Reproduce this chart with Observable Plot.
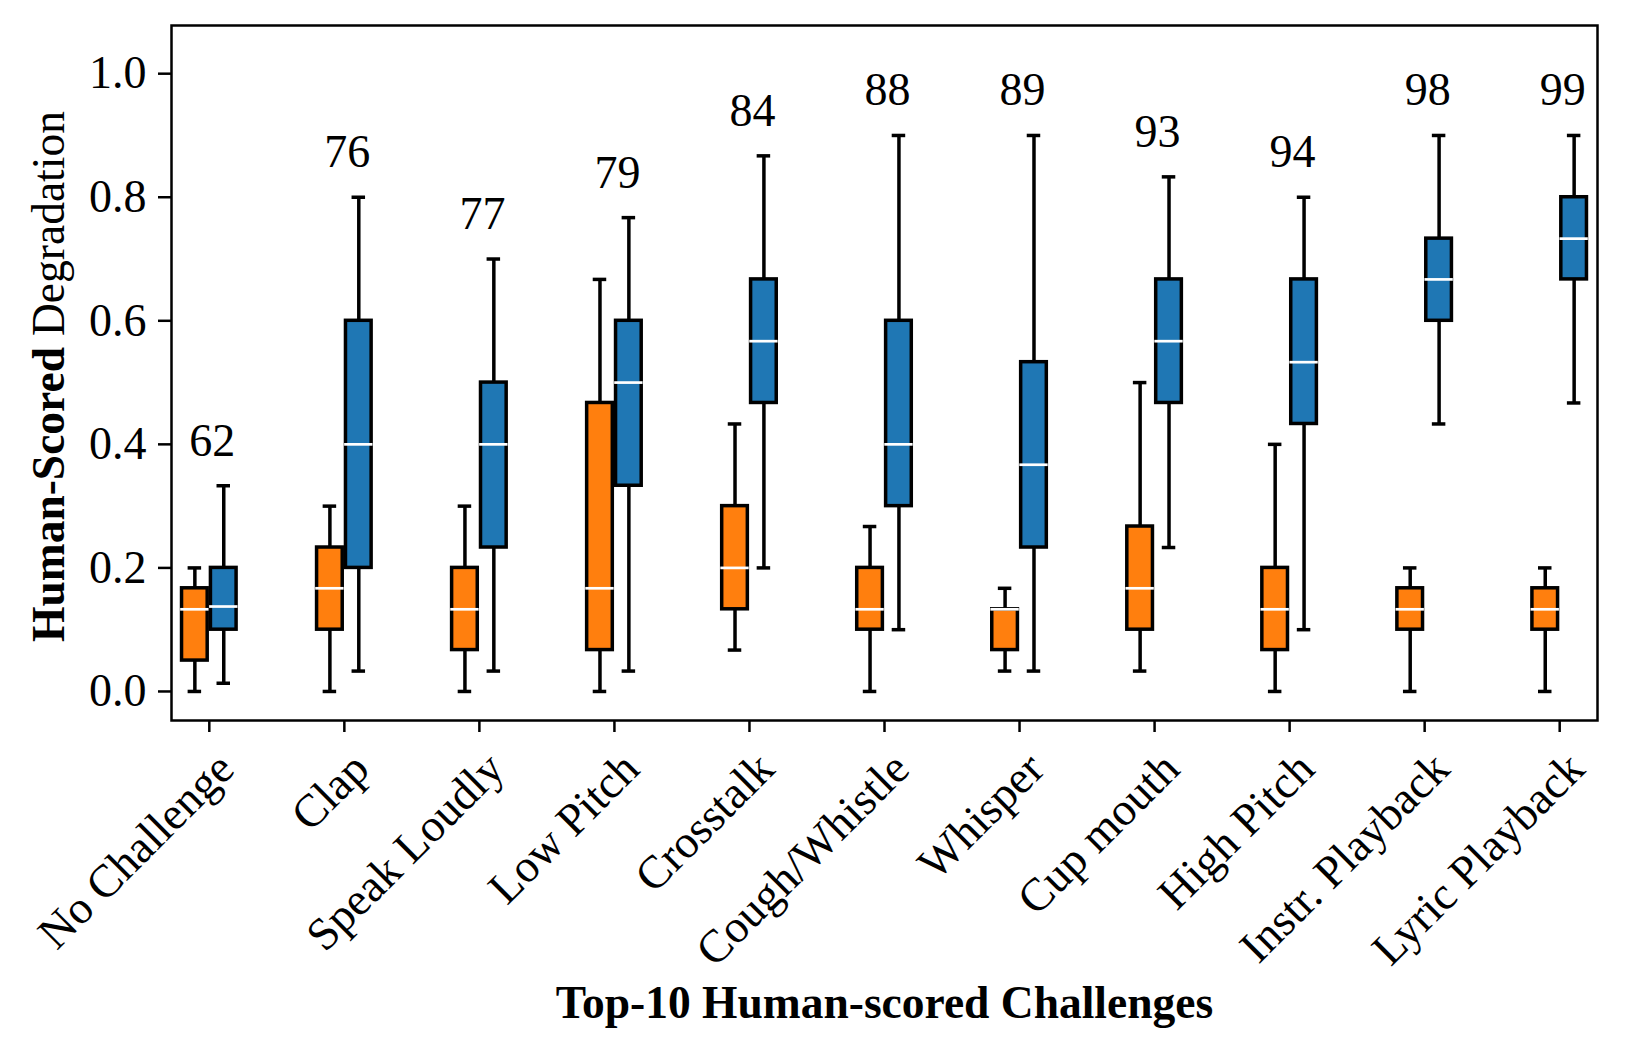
<!DOCTYPE html>
<html><head><meta charset="utf-8">
<script src="https://cdn.jsdelivr.net/npm/d3@7"></script>
<script src="https://cdn.jsdelivr.net/npm/@observablehq/plot@0.6"></script>
<style>body{margin:0;background:#fff;overflow:hidden}</style>
</head><body><div id="chart"></div>
<script>
const categories = ["No Challenge","Clap","Speak Loudly","Low Pitch","Crosstalk","Cough/Whistle","Whisper","Cup mouth","High Pitch","Instr. Playback","Lyric Playback"];
const scores = [62,76,77,79,84,88,89,93,94,98,99];
const yTicks = [0.0,0.2,0.4,0.6,0.8,1.0];

const orangeMin = [0,0,0,0,0.067,0,0.033,0.033,0,0,0];
const orangeQ1  = [0.05,0.1,0.067,0.067,0.133,0.1,0.067,0.1,0.067,0.1,0.1];
const orangeMed = [0.133,0.167,0.133,0.167,0.2,0.133,0.133,0.167,0.133,0.133,0.133];
const orangeQ3  = [0.167,0.233,0.2,0.467,0.3,0.2,0.133,0.267,0.2,0.167,0.167];
const orangeMax = [0.2,0.3,0.3,0.667,0.433,0.267,0.167,0.5,0.4,0.2,0.2];

const blueMin = [0.0133,0.033,0.033,0.033,0.2,0.1,0.033,0.233,0.1,0.433,0.467];
const blueQ1  = [0.1,0.2,0.233,0.333,0.467,0.3,0.233,0.467,0.433,0.6,0.667];
const blueMed = [0.1375,0.4,0.4,0.5,0.567,0.4,0.367,0.567,0.533,0.667,0.733];
const blueQ3  = [0.2,0.6,0.5,0.6,0.667,0.6,0.533,0.667,0.667,0.733,0.8];
const blueMax = [0.333,0.8,0.7,0.767,0.867,0.9,0.9,0.833,0.8,0.9,0.9];

const groups = [
  {color:"#ff7f0e", off:-0.107, min:orangeMin, q1:orangeQ1, med:orangeMed, q3:orangeQ3, max:orangeMax},
  {color:"#1f77b4", off: 0.107, min:blueMin, q1:blueQ1, med:blueMed, q3:blueQ3, max:blueMax}
];
const bw = 0.19, cap = 0.05;
const rows = categories.flatMap((c,i) => groups.map(g => ({
  cat:c, x:i+g.off, color:g.color,
  min:g.min[i], q1:g.q1[i], med:g.med[i], q3:g.q3[i], max:g.max[i]
})));
const scoreRows = categories.map((c,i) => ({i, score:String(scores[i]), top:blueMax[i]}));
const labelRows = categories.map((c,i) => ({i, c}));

const font = "'Liberation Serif', 'Times New Roman', serif";
const chart = Plot.plot({
  width:1638, height:1055,
  marginLeft:171, marginRight:41, marginTop:25, marginBottom:335,
  style:{fontFamily:font, background:"white", color:"black"},
  x:{domain:[-0.28,10.28]},
  y:{domain:[-0.047,1.078]},
  color:{type:"identity"},
  marks:[
    Plot.axisY({ticks:yTicks, tickFormat:d3.format(".1f"), tickSize:13, tickPadding:12, fontSize:46, strokeWidth:2.5, label:null}),
    Plot.axisX({ticks:d3.range(11), tickFormat:()=>"", tickSize:12, strokeWidth:2.5, label:null}),
    Plot.text(labelRows, {x:"i", text:"c", frameAnchor:"bottom", rotate:-45, textAnchor:"end", lineAnchor:"top", dx:4, dy:28, fontSize:46}),
    Plot.ruleX(rows, {x:"x", y1:"min", y2:"max", stroke:"black", strokeWidth:3.5}),
    Plot.ruleY(rows, {y:"min", x1:d=>d.x-cap, x2:d=>d.x+cap, stroke:"black", strokeWidth:3.5}),
    Plot.ruleY(rows, {y:"max", x1:d=>d.x-cap, x2:d=>d.x+cap, stroke:"black", strokeWidth:3.5}),
    Plot.rect(rows, {x1:d=>d.x-bw/2, x2:d=>d.x+bw/2, y1:"q1", y2:"q3", fill:"color", stroke:"black", strokeWidth:3.5}),
    Plot.ruleY(rows, {y:"med", x1:d=>d.x-bw/2-0.01, x2:d=>d.x+bw/2+0.01, stroke:"white", strokeWidth:2.7}),
    Plot.text(scoreRows, {x:"i", y:"top", text:"score", dx:3, dy:-30, lineAnchor:"bottom", fontSize:46}),
    Plot.text(["Human-Scored"], {frameAnchor:"left", text:d=>d, rotate:-90, textAnchor:"end", lineAnchor:"bottom", dx:-108, dy:-26, fontSize:45.5, fontWeight:"bold"}),
    Plot.text(["Degradation"], {frameAnchor:"left", text:d=>d, rotate:-90, textAnchor:"start", lineAnchor:"bottom", dx:-108, dy:-37, fontSize:45.5}),
    Plot.text(["Top-10 Human-scored Challenges"], {frameAnchor:"bottom", text:d=>d, lineAnchor:"bottom", dy:297, fontSize:45.5, fontWeight:"bold"}),
    Plot.frame({stroke:"black", strokeWidth:2.5})
  ]
});
document.getElementById("chart").appendChild(chart);
</script>
</body></html>
